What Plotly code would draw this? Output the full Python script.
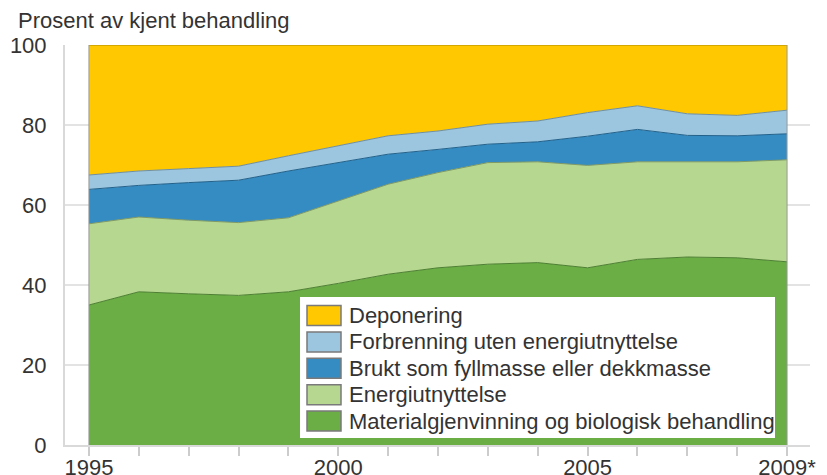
import plotly.graph_objects as go

years = list(range(1995, 2010))
tick_labels = ["1995", "", "", "", "", "2000", "", "", "", "", "2005", "", "", "", "2009*"]

series_names = [
    "Materialgjenvinning og biologisk behandling",
    "Energiutnyttelse",
    "Brukt som fyllmasse eller dekkmasse",
    "Forbrenning uten energiutnyttelse",
    "Deponering",
]
materialgjenvinning = [35.0, 38.3, 37.8, 37.4, 38.3, 40.4, 42.7, 44.3, 45.2, 45.6, 44.3, 46.4, 47.0, 46.8, 45.8]
energiutnyttelse = [20.3, 18.7, 18.4, 18.2, 18.5, 20.6, 22.5, 23.8, 25.4, 25.2, 25.6, 24.4, 23.8, 24.0, 25.5]
fyllmasse = [8.6, 7.9, 9.4, 10.6, 11.7, 9.6, 7.5, 5.8, 4.6, 5.0, 7.3, 8.1, 6.6, 6.5, 6.5]
forbrenning = [3.6, 3.6, 3.5, 3.5, 3.8, 4.2, 4.6, 4.6, 5.0, 5.2, 5.9, 5.9, 5.4, 5.1, 5.9]
deponering = [32.5, 31.5, 30.9, 30.3, 27.7, 25.2, 22.7, 21.5, 19.8, 19.0, 16.9, 15.2, 17.2, 17.6, 16.3]

fill_colors = ["#6aae45", "#b6d78f", "#358cc3", "#9cc6df", "#ffc800"]
line_colors = ["#4d7f32", "#7f9a63", "#22618a", "#6e8fa3", "#a88400"]

values = [materialgjenvinning, energiutnyttelse, fyllmasse, forbrenning, deponering]

FONT = "Liberation Sans, Arial, sans-serif"
TXT = "#333333"
FS = 22

# page offset of the figure (default body margin of the html page)
OFF = 8
W, H = 827 - OFF, 475 - OFF
ML, MR, MT, MB = 65 - OFF, 17, 45 - OFF, 30
PW, PH = W - ML - MR, H - MT - MB


def px_x(px):
    """page pixel x -> paper coordinate"""
    return (px - OFF - ML) / PW


def px_y(py):
    """page pixel y -> paper coordinate"""
    return (H - MB - (py - OFF)) / PH


fig = go.Figure()
for name, vals, fc, lc in zip(series_names, values, fill_colors, line_colors):
    fig.add_trace(go.Scatter(
        x=years, y=vals, name=name, mode="lines",
        stackgroup="one", fillcolor=fc,
        line=dict(color=lc, width=1),
        hoverinfo="x+y+name", showlegend=False,
    ))

shapes = []
# plot edge lines at first/last year
for xv in (years[0], years[-1]):
    shapes.append(dict(type="line", xref="x", yref="y", x0=xv, x1=xv, y0=0, y1=100,
                       line=dict(color="#9a9a9a", width=1), layer="above"))

# legend box (custom, drawn in paper space)
box_l, box_r, box_t, box_b = 300, 775, 297, 438
shapes.append(dict(type="rect", xref="paper", yref="paper",
                   x0=px_x(box_l), x1=px_x(box_r), y0=px_y(box_b), y1=px_y(box_t),
                   fillcolor="white", line=dict(width=0), layer="above"))
annotations = []
row0, row_step = 315.5, 26.4
sw_l, sw_r, sw_h = 307, 341, 20
text_l = 347
legend_order = list(range(len(series_names)))[::-1]
for i, k in enumerate(legend_order):
    cy = row0 + i * row_step
    shapes.append(dict(type="rect", xref="paper", yref="paper",
                       x0=px_x(sw_l), x1=px_x(sw_r),
                       y0=px_y(cy + sw_h / 2), y1=px_y(cy - sw_h / 2),
                       fillcolor=fill_colors[k], line=dict(color="#7a7a7a", width=1.5),
                       layer="above"))
    annotations.append(dict(text=series_names[k], xref="paper", yref="paper",
                            x=px_x(text_l), y=px_y(cy), xanchor="left", yanchor="middle",
                            showarrow=False, font=dict(family=FONT, size=FS, color=TXT)))

annotations.append(dict(
    text="Prosent av kjent behandling", xref="paper", yref="paper",
    x=px_x(16), y=px_y(35), xanchor="left", yanchor="bottom", showarrow=False,
    font=dict(family=FONT, size=FS, color=TXT),
))

fig.update_layout(
    width=W, height=H,
    margin=dict(l=ML, r=MR, t=MT, b=MB, autoexpand=False),
    paper_bgcolor="white", plot_bgcolor="white",
    font=dict(family=FONT, size=FS, color=TXT),
    showlegend=False,
    shapes=shapes,
    annotations=annotations,
)

fig.update_xaxes(
    range=[1994.52, 2009.46],
    tickvals=years, ticktext=tick_labels,
    ticks="outside", ticklen=9, tickcolor="#cccccc", tickwidth=2,
    showline=True, linecolor="#d9d9d9", linewidth=2,
    showgrid=False, zeroline=False, automargin=False,
    ticklabelstandoff=-7,
    tickfont=dict(family=FONT, size=FS, color=TXT),
)
fig.update_yaxes(
    range=[0, 100], tickvals=[0, 20, 40, 60, 80, 100],
    showgrid=True, gridcolor="#e3e3e3", gridwidth=2,
    showline=True, linecolor="#d9d9d9", linewidth=2,
    ticks="", zeroline=False, ticklabelstandoff=12, automargin=False,
    tickfont=dict(family=FONT, size=FS, color=TXT),
)

fig.write_html("out.html")
